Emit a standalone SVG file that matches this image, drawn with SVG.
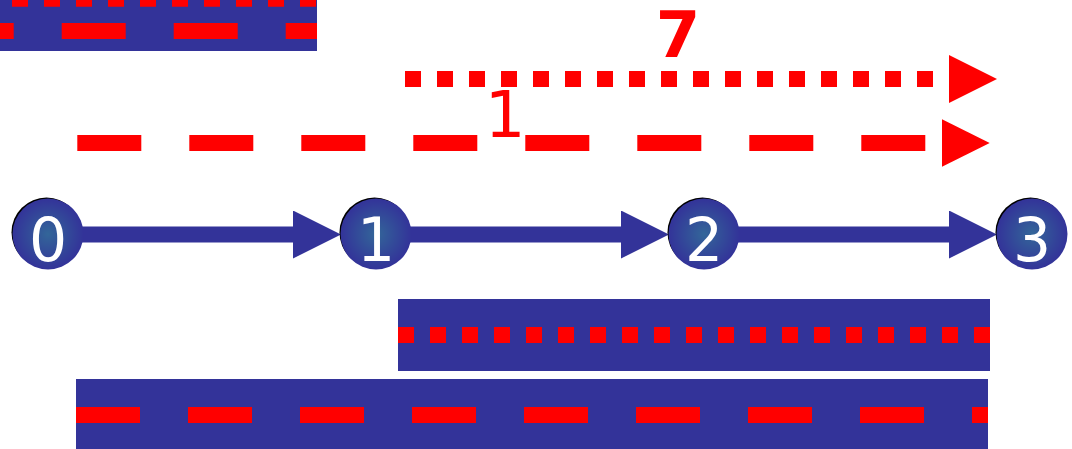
<svg xmlns="http://www.w3.org/2000/svg" width="1072" height="449" viewBox="0 0 1072 449">
  <style>
    .band { fill: #333399; }
    .red { fill: none; stroke: #ff0000; stroke-width: 16; }
    .dots { stroke-dasharray: 16 16; }
    .dashes { stroke-dasharray: 64 48; }
    .edge { fill: none; stroke: #333399; stroke-width: 16; marker-end: url(#headBlue); }
    .node-shadow { fill: #000000; }
    .node-disc { fill: url(#nodeFill); }
    .node-label { font-family: "DejaVu Sans", sans-serif; font-size: 60px; fill: #ffffff; text-anchor: middle; }
    .arrow-label { font-family: "DejaVu Sans", sans-serif; font-size: 64px; fill: #ff0000; text-anchor: middle; }
  </style>
  <defs>
    <radialGradient id="nodeFill" cx="0.5" cy="0.5" r="0.5">
      <stop offset="0" stop-color="#336699"/>
      <stop offset="1" stop-color="#333399"/>
    </radialGradient>
    <marker id="headBlue" viewBox="0 0 3 3" refX="0" refY="1.5" markerWidth="3" markerHeight="3" markerUnits="strokeWidth" orient="auto">
      <path d="M0,0 L3,1.5 L0,3 Z" fill="#333399"/>
    </marker>
    <marker id="headRed" viewBox="0 0 3 3" refX="0" refY="1.5" markerWidth="3" markerHeight="3" markerUnits="strokeWidth" orient="auto">
      <path d="M0,0 L3,1.5 L0,3 Z" fill="#ff0000"/>
    </marker>
  </defs>

  <!-- strip in the top-left corner -->
  <g id="strip-top">
    <rect class="band" x="0" y="0" width="317" height="51"/>
    <line class="red dots" x1="12" y1="-1.3" x2="317" y2="-1.3"/>
    <line class="red dashes" x1="-50.3" y1="31" x2="317" y2="31"/>
  </g>

  <!-- labelled red arrows -->
  <g id="arrow-dotted">
    <line class="red dots" x1="405" y1="79" x2="949" y2="79" marker-end="url(#headRed)"/>
    <text class="arrow-label" x="678" y="57" font-weight="bold">7</text>
  </g>
  <g id="arrow-dashed">
    <line class="red dashes" x1="77.3" y1="143" x2="941.7" y2="143" marker-end="url(#headRed)"/>
    <text class="arrow-label" x="505" y="136.5">1</text>
  </g>

  <!-- connectors between the numbered nodes -->
  <g id="connectors">
    <line class="edge" x1="48" y1="234.5" x2="293" y2="234.5"/>
    <line class="edge" x1="376" y1="234.5" x2="621" y2="234.5"/>
    <line class="edge" x1="704" y1="234.5" x2="949" y2="234.5"/>
  </g>

  <g id="node-0">
    <circle class="node-shadow" cx="46.5" cy="232.5" r="35"/>
    <circle class="node-disc" cx="48" cy="234" r="35.5"/>
    <text class="node-label" x="48" y="261">0</text>
  </g>
  <g id="node-1">
    <circle class="node-shadow" cx="374.5" cy="232.5" r="35"/>
    <circle class="node-disc" cx="376" cy="234" r="35.5"/>
    <text class="node-label" x="376" y="261">1</text>
  </g>
  <g id="node-2">
    <circle class="node-shadow" cx="702.5" cy="232.5" r="35"/>
    <circle class="node-disc" cx="704" cy="234" r="35.5"/>
    <text class="node-label" x="704" y="261">2</text>
  </g>
  <g id="node-3">
    <circle class="node-shadow" cx="1030.5" cy="232.5" r="35"/>
    <circle class="node-disc" cx="1032" cy="234" r="35.5"/>
    <text class="node-label" x="1032" y="261">3</text>
  </g>

  <!-- bands along the bottom -->
  <g id="band-dotted">
    <rect class="band" x="398" y="299" width="592" height="72"/>
    <line class="red dots" x1="398" y1="335" x2="990" y2="335"/>
  </g>
  <g id="band-dashed">
    <rect class="band" x="76" y="379" width="912" height="72"/>
    <line class="red dashes" x1="76" y1="415" x2="988" y2="415"/>
  </g>
</svg>
